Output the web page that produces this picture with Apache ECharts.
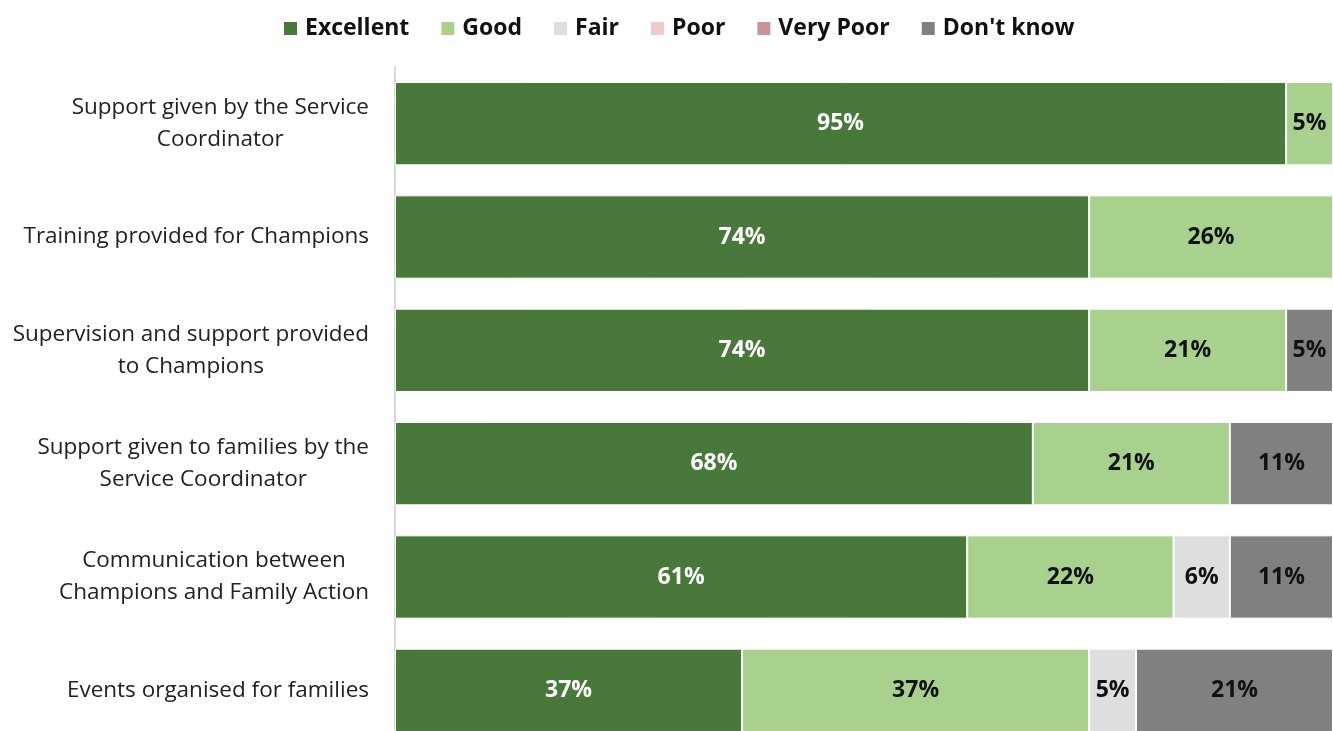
<!DOCTYPE html>
<html><head><meta charset="utf-8">
<script src="https://cdn.jsdelivr.net/npm/echarts@6/dist/echarts.min.js"></script>
<style>html,body{margin:0;padding:0;background:#fff}#c{width:1333px;height:731px}</style>
</head><body><div id="c"></div>
<script>
const categories = [
  'Support given by the Service\nCoordinator',
  'Training provided for Champions',
  'Supervision and support provided\nto Champions',
  'Support given to families by the\nService Coordinator',
  'Communication between\nChampions and Family Action',
  'Events organised for families'
];
const seriesNames = ['Excellent','Good','Fair','Poor','Very Poor',"Don't know"];
const excellent = [95, 74, 74, 68, 61, 37];
const good      = [5, 26, 21, 21, 22, 37];
const fair      = [0, 0, 0, 0, 6, 5];
const poor      = [0, 0, 0, 0, 0, 0];
const veryPoor  = [0, 0, 0, 0, 0, 0];
const dontKnow  = [0, 0, 5, 11, 11, 21];
const values = [excellent, good, fair, poor, veryPoor, dontKnow];
const colors = ['#48793a','#a9d18e','#dedede','#f2c9c9','#c99494','#808080'];
const labelColors = ['#ffffff','#111','#111','#111','#111','#111'];
const FONT = 'Open Sans';

const chart = echarts.init(document.getElementById('c'), null, {renderer:'canvas'});
chart.setOption({
  animation:false,
  textStyle:{fontFamily:FONT},
  legend:{
    top:12, left:277, itemWidth:15, itemHeight:15, itemGap:30,
    icon:'rect',
    textStyle:{fontFamily:FONT, fontWeight:'bold', fontSize:23, color:'#111', padding:[0,0,0,2]},
    data:seriesNames
  },
  grid:{left:395, right:0, top:67, height:680, containLabel:false, outerBoundsMode:'none'},
  xAxis:{type:'value', min:0, max:100, show:false},
  yAxis:{
    type:'category', inverse:true, data:categories,
    axisLine:{show:true, lineStyle:{color:'#d9d9d9', width:2}},
    axisTick:{show:false},
    axisLabel:{fontFamily:FONT, fontSize:22.5, color:'#222', lineHeight:32, align:'right', margin:26,
      formatter: v => v.split('\n').map(l => '{c|' + l + '}').join('\n'),
      rich:{c:{align:'center', fontFamily:FONT, fontSize:22.5, color:'#222', lineHeight:32}}
    }
  },
  series: seriesNames.map((n,i)=>({
    name:n, type:'bar', stack:'all', barCategoryGap:'26.5%',
    data: values[i],
    itemStyle:{color:colors[i], borderColor:'#fff', borderWidth:1},
    label:{show:true, position:'inside', fontFamily:FONT, fontWeight:'bold', fontSize:23,
      color:labelColors[i], formatter: p => p.value > 0 ? p.value + '%' : ''}
  }))
});
</script></body></html>
